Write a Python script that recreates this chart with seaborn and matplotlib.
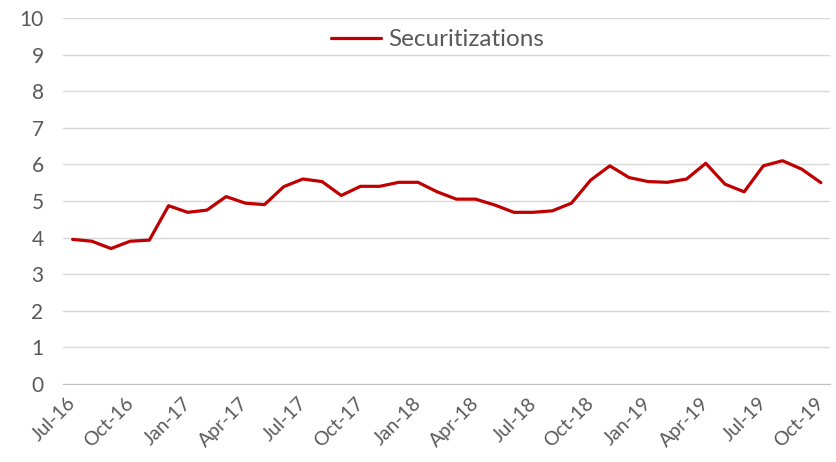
import pandas as pd
import matplotlib.pyplot as plt
import matplotlib.transforms as mtransforms
import seaborn as sns

# monthly series, Jul-16 .. Oct-19
months = pd.date_range('2016-07-01', '2019-10-01', freq='MS').strftime('%b-%y').tolist()
securitizations = [3.95, 3.90, 3.70, 3.90, 3.93, 4.87, 4.69, 4.75, 5.12, 4.94,
                   4.90, 5.39, 5.60, 5.53, 5.15, 5.40, 5.40, 5.51, 5.51, 5.25,
                   5.05, 5.05, 4.89, 4.69, 4.69, 4.73, 4.94, 5.57, 5.96, 5.64,
                   5.53, 5.51, 5.60, 6.03, 5.46, 5.25, 5.96, 6.10, 5.87, 5.50]
tick_labels = ['Jul-16', 'Oct-16', 'Jan-17', 'Apr-17', 'Jul-17', 'Oct-17', 'Jan-18',
               'Apr-18', 'Jul-18', 'Oct-18', 'Jan-19', 'Apr-19', 'Jul-19', 'Oct-19']

df = pd.DataFrame({'pos': range(len(months)), 'Month': months,
                   'Securitizations': securitizations})

sns.set_style('white')
plt.rcParams['font.family'] = ['Lato', 'DejaVu Sans']
grey = '#595959'

fig = plt.figure(figsize=(8.36, 4.62), dpi=100)
ax = fig.add_axes([0.0754, 0.169, 0.918, 0.792])

sns.lineplot(data=df, x='pos', y='Securitizations', color='#c00000',
             linewidth=2.3, label='Securitizations', ax=ax)

ax.set_xlim(-0.5, len(months) - 0.5)
ax.set_ylim(0, 10)
ax.set_yticks(range(0, 11))
ax.set_xticks([i * 3 - 0.5 for i in range(len(tick_labels))])
ax.set_xticklabels(tick_labels, rotation=45, ha='right', va='top',
                   rotation_mode='anchor')
ax.set_xlabel('')
ax.set_ylabel('')

ax.grid(axis='y', color='#d9d9d9', linewidth=1)
ax.set_axisbelow(True)
for s in ['top', 'right', 'left']:
    ax.spines[s].set_visible(False)
ax.spines['bottom'].set_color('#bfbfbf')
ax.tick_params(axis='x', colors=grey, labelsize=14, length=5, width=1,
               color='#bfbfbf', direction='out', pad=2)
ax.tick_params(axis='y', colors=grey, labelsize=15, length=0, pad=14)

# nudge the rotated date labels so they hang under the ticks like the original
shift = mtransforms.ScaledTranslation(0.04, -0.01, fig.dpi_scale_trans)
for t in ax.get_xticklabels():
    t.set_transform(t.get_transform() + shift)

leg = ax.legend(loc='center', bbox_to_anchor=(0.488, 0.94), frameon=False,
                fontsize=17.5, handlelength=2.05, handletextpad=0.33)
for t in leg.get_texts():
    t.set_color(grey)

fig.savefig('out.png', dpi=100)
